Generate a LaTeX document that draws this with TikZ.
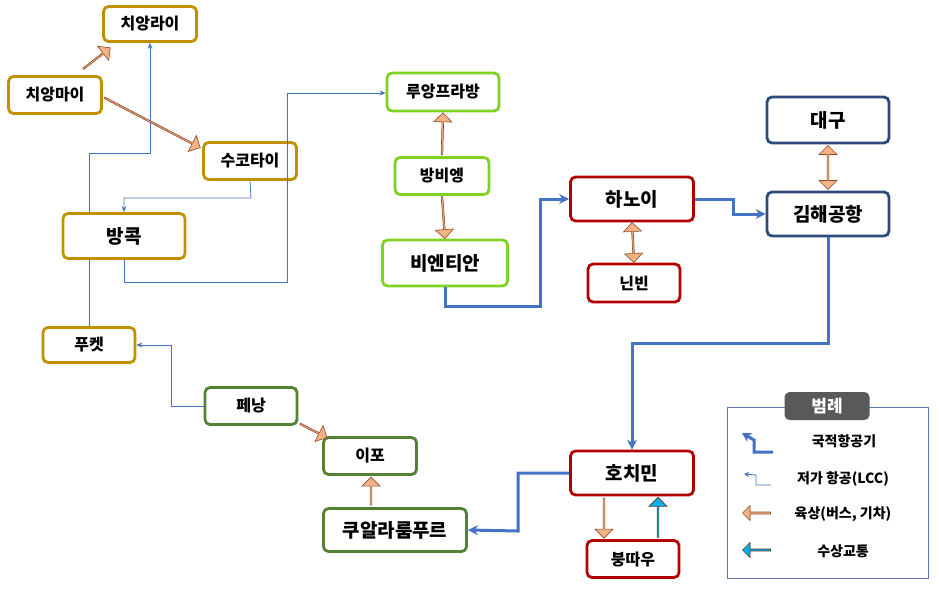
\documentclass[tikz,border=0pt]{standalone}
\usepackage{fontspec}
\setmainfont{Noto Sans CJK KR}
\usetikzlibrary{shapes.arrows,arrows.meta,calc}
\definecolor{gold}{HTML}{BF9000}
\definecolor{lgreen}{HTML}{7ED321}
\definecolor{dgreen}{HTML}{548235}
\definecolor{dred}{HTML}{B00000}
\definecolor{dblue}{HTML}{2F4A7A}
\definecolor{lnblue}{HTML}{4472C4}
\definecolor{orfill}{HTML}{F4B183}
\definecolor{ordraw}{HTML}{8B4A2B}
\definecolor{cyanf}{HTML}{00B0F0}
\pgfdeclarelayer{bg}\pgfsetlayers{bg,main}
\tikzset{
 city/.style={draw=#1,line width=2.8pt,rounded corners=5pt,fill=white,font=\bfseries\fontsize{16}{16}\selectfont,inner sep=0pt},
 big/.style={font=\bfseries\fontsize{19}{19}\selectfont},
 lcc/.style={draw=lnblue,line width=0.8pt,-{Stealth[length=6pt,width=5pt]}},
 intl/.style={draw=lnblue,line width=3pt,-{Stealth[length=10pt,width=10pt]}},
 fat/.style={single arrow,draw=ordraw,fill=orfill,line width=0.6pt,minimum width=18pt,single arrow head extend=3pt,single arrow head indent=0pt,inner sep=0pt,minimum height=#1},
 fatd/.style={double arrow,draw=ordraw,fill=orfill,line width=0.6pt,minimum width=18pt,double arrow head extend=3pt,inner sep=0pt,minimum height=#1},
 fatc/.style={single arrow,draw=ordraw!70!black,fill=cyanf,line width=0.6pt,minimum width=18pt,single arrow head extend=3pt,inner sep=0pt,minimum height=#1},
}
\begin{document}
\begin{tikzpicture}[x=1pt,y=-1pt]
\useasboundingbox (0,0) rectangle (939,591);
% nodes
\node[city=gold,minimum width=93pt,minimum height=35pt] (cr) at (150,24) {치앙라이};
\node[city=gold,minimum width=93pt,minimum height=37pt] (cm) at (55,95) {치앙마이};
\node[city=gold,minimum width=93pt,minimum height=37pt] (sk) at (250,161) {수코타이};
\node[city=gold,big,minimum width=122pt,minimum height=45pt] (bk) at (124,236) {방콕};
\node[city=gold,minimum width=92pt,minimum height=35pt] (pk) at (89,345) {푸켓};
\node[city=lgreen,minimum width=112pt,minimum height=38pt] (lp) at (443,92) {루앙프라방};
\node[city=lgreen,minimum width=94pt,minimum height=37pt] (vv) at (442,176) {방비엥};
\node[city=lgreen,big,minimum width=125pt,minimum height=46pt] (vt) at (445,263) {비엔티안};
\node[city=dred,big,minimum width=123pt,minimum height=44pt] (hn) at (632,199) {하노이};
\node[city=dred,minimum width=92pt,minimum height=38pt] (nb) at (634,283) {닌빈};
\node[city=dblue,big,minimum width=122pt,minimum height=46pt] (dg) at (828,120) {대구};
\node[city=dblue,big,minimum width=122pt,minimum height=44pt] (gh) at (828,214) {김해공항};
\node[city=dred,big,minimum width=123pt,minimum height=44pt] (hc) at (632,473) {호치민};
\node[city=dred,minimum width=92pt,minimum height=37pt] (vtu) at (633,559) {붕따우};
\node[city=dgreen,minimum width=92pt,minimum height=37pt] (pn) at (251,406) {페낭};
\node[city=dgreen,minimum width=93pt,minimum height=37pt] (ip) at (370,456) {이포};
\node[city=dgreen,big,minimum width=143pt,minimum height=43pt] (kl) at (395,530) {쿠알라룸푸르};
% thin LCC lines
\begin{pgfonlayer}{bg}
\draw[lcc] (pk.north -| 89,0) -- (89,153) -- (150,153) -- (cr.south);
\end{pgfonlayer}
\draw[lcc] (sk.south) -- (251,198) -- (124,198) -- (bk.north);
\draw[lcc] (bk.south) -- (124,282) -- (287,282) -- (287,93) -- (lp.west |- 0,93);
\draw[lcc] (pn.west) -- (171,406) -- (171,345) -- (pk.east);
% international
\draw[intl] (vt.south) -- (445,306) -- (540,306) -- (540,199) -- (hn.west);
\draw[intl] (hn.east) -- (733,199) -- (733,214) -- (gh.west);
\draw[intl] (gh.south) -- (828,343) -- (632,343) -- (hc.north);
\draw[intl] (hc.west) -- (518,473) -- (518,531) -- (kl.east);
% fat arrows
\path ($(cr.south west)+(8,5)$) -- ($(cm.north east)+(-20,-6)$) node[midway,sloped,fat=34pt]{};
\path ($(cm.east)+(2,3)$) -- ($(sk.north west)+(-3,6)$) node[midway,sloped,fat=108pt]{};
\path (lp.south) -- (vv.north) node[midway,sloped,fat=42pt]{};
\path (vv.south) -- (vt.north) node[midway,sloped,fat=42pt]{};
\path (hn.south) -- (nb.north) node[midway,sloped,fatd=40pt]{};
\path (dg.south) -- (gh.north) node[midway,sloped,fatd=44pt]{};
\path (hc.south -| 604,0) -- (vtu.north -| 604,0) node[midway,sloped,fat=40pt]{};
\path (vtu.north -| 658,0) -- (hc.south -| 658,0) node[midway,sloped,fatc=40pt]{};
\path (kl.north -| 371,0) -- (ip.south -| 371,0) node[midway,sloped,fat=28pt]{};
\path ($(ip.north west)+(4,1)$) -- ($(pn.east)+(2,18)$) node[midway,sloped,fat=30pt]{};
% legend
\draw[lnblue!60!gray,line width=0.8pt] (727,407) rectangle (928,578);
\node[fill=black!65,rounded corners=5pt,text=white,font=\bfseries\fontsize{17}{17}\selectfont,minimum width=85pt,minimum height=28pt,inner sep=0pt] (lt) at (827,406) {범례};
\coordinate (l1) at (773,452);
\draw[draw=lnblue,line width=3pt,-{Stealth[length=9pt,width=10pt]}] (l1) -- (754,452) -- (754,440) -- (742,433);
\coordinate (l2) at (771,485);
\draw[draw=lnblue,line width=0.8pt,-{Stealth[length=5pt,width=5pt]}] (l2) -- (756,485) -- (756,475) -- (744,474);
\node[font=\bfseries\fontsize{14}{14}\selectfont] (t1) at (844,441) {국적항공기};
\node[font=\bfseries\fontsize{14}{14}\selectfont] (t2) at (843,479) {저가 항공(LCC)};
\node[font=\bfseries\fontsize{14}{14}\selectfont] (t3) at (843,514) {육상(버스, 기차)};
\node[font=\bfseries\fontsize{14}{14}\selectfont] (t4) at (843,551) {수상교통};
\node[single arrow,draw=ordraw,fill=orfill,line width=0.6pt,minimum width=15pt,single arrow head extend=2pt,inner sep=0pt,minimum height=28pt,shape border rotate=180] (a3) at (757,513) {};
\node[single arrow,draw=ordraw!70!black,fill=cyanf,line width=0.6pt,minimum width=15pt,single arrow head extend=2pt,inner sep=0pt,minimum height=28pt,shape border rotate=180] (a4) at (757,550) {};
\end{tikzpicture}
\end{document}
